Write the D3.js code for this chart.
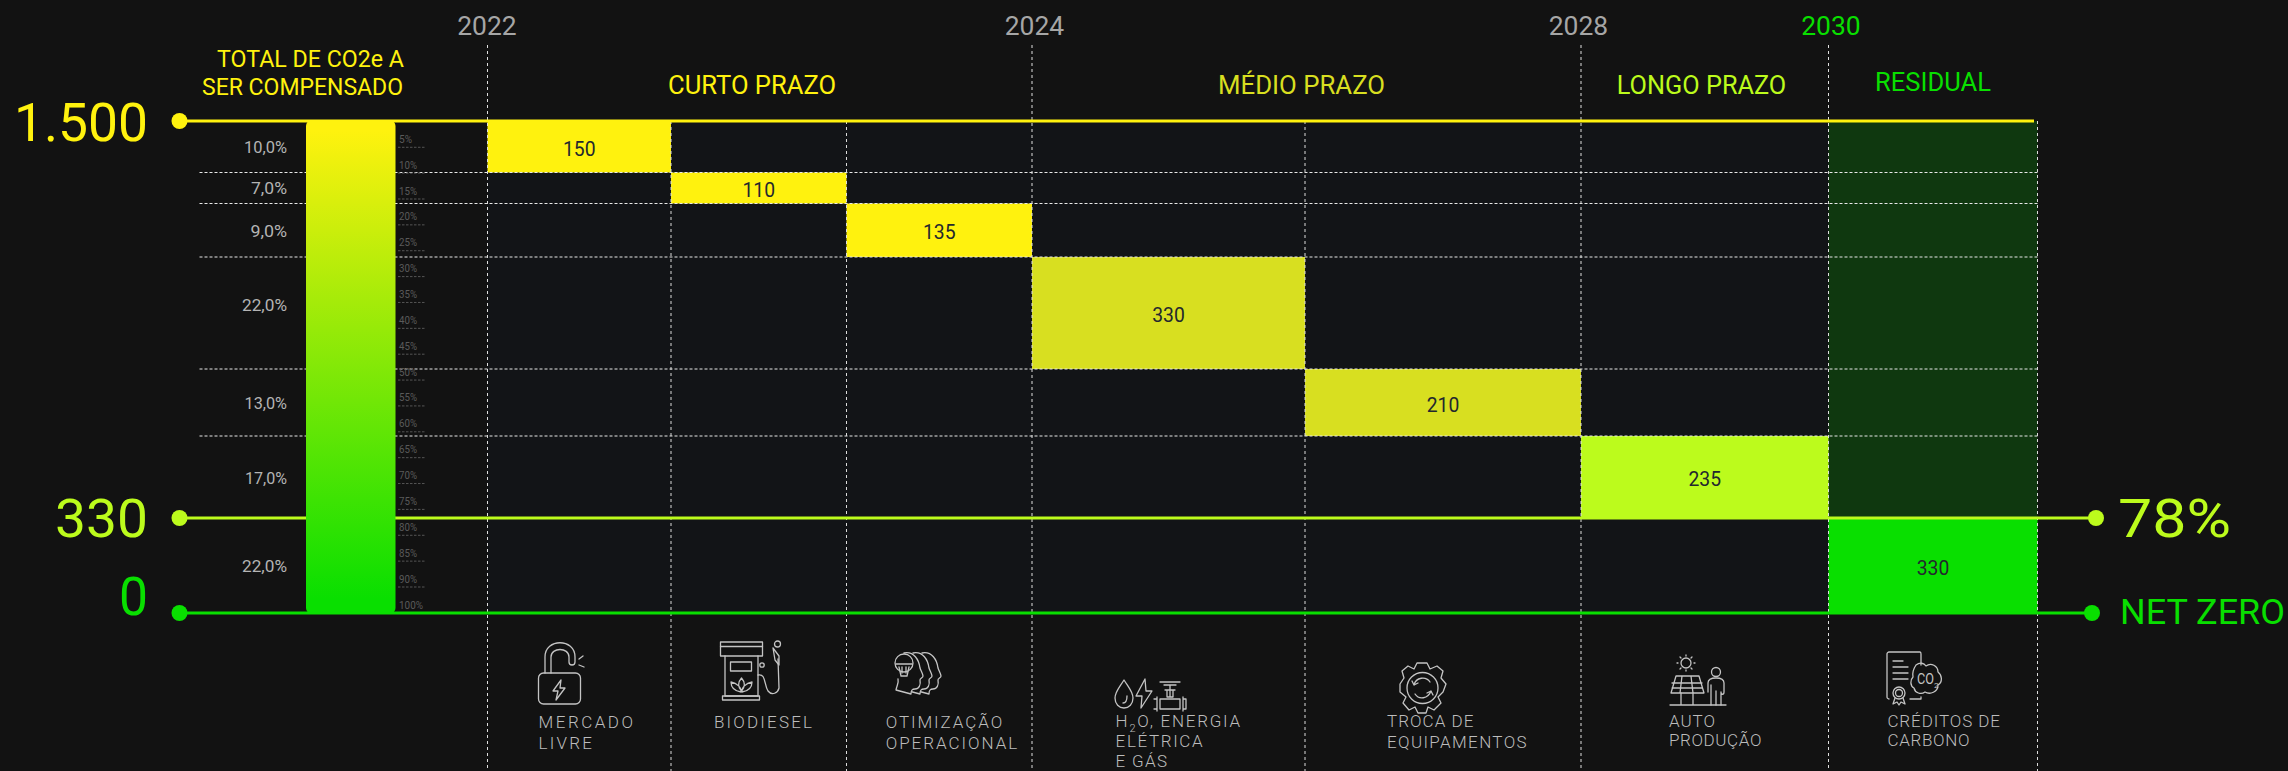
<!DOCTYPE html>
<html>
<head>
<meta charset="utf-8">
<script src="https://cdn.jsdelivr.net/npm/d3@7"></script>
<style>
  html,body{margin:0;padding:0;background:#121212;}
  svg{display:block;}
  text{font-family:"Roboto",sans-serif;font-weight:400;}
  .leg text{font-weight:300;}
  .axisY path,.axisX path,.axisP path{display:none;}
  .icon *{fill:none;stroke:#c4c4c4;stroke-width:1.3;stroke-linejoin:round;stroke-linecap:round;}
</style>
</head>
<body>
<svg id="chart" width="2288" height="771"></svg>
<script>
// data
var valores = [150,110,135,330,210,235,330];
var percentuais = ["10,0%","7,0%","9,0%","22,0%","13,0%","17,0%","22,0%"];
var anos = ["2022","2024","2028","2030"];
var anoColuna = [0,3,5,6];
var prazos = ["CURTO PRAZO","MÉDIO PRAZO","LONGO PRAZO","RESIDUAL"];
var tituloTotal = ["TOTAL DE CO2e A","SER COMPENSADO"];
var marcosEsq = ["1.500","330","0"];
var marcosVal = [1500,330,0];
var pctTicks = [5,10,15,20,25,30,35,40,45,50,55,60,65,70,75,80,85,90,100];
var legendas = [
  ["MERCADO","LIVRE"],
  ["BIODIESEL"],
  ["OTIMIZAÇÃO","OPERACIONAL"],
  ["H2O, ENERGIA","ELÉTRICA","E GÁS"],
  ["TROCA DE","EQUIPAMENTOS"],
  ["AUTO","PRODUÇÃO"],
  ["CRÉDITOS DE","CARBONO"]
];

// colors per cell
var amarelo = "#fff20e", oliva = "#d8df20", lima = "#bcfb1c", verde = "#09df00";
var corCel = [amarelo,amarelo,amarelo,oliva,oliva,lima,verde];
var corPrazo = [amarelo,oliva,lima,verde];

// layout
var restante = [1500];
valores.forEach(function(v,i){ restante.push(restante[i]-v); });

var y = d3.scaleLinear().domain(restante).range([121,172.5,203.5,257,369,436,518,613]);
var x = d3.scaleLinear().domain(d3.range(8)).range([487.5,671,846.5,1032,1305,1581,1828.5,2037.5]);
var yPct = d3.scaleLinear().domain([0,90,100]).range([121.4,587,613]);

var svg = d3.select("#chart");
var defs = svg.append("defs");
var grad = defs.append("linearGradient").attr("id","gBar").attr("x1",0).attr("x2",0).attr("y1",0).attr("y2",1);
grad.append("stop").attr("offset","2%").attr("stop-color",amarelo);
grad.append("stop").attr("offset","97%").attr("stop-color",verde);

function txt(g,s,px,py,size,cor,largura,anchor,ajuste){
  var t = g.append("text").attr("x",px).attr("y",py).attr("font-size",size).attr("fill",cor)
    .attr("text-anchor",anchor||"start").text(s);
  if(largura) t.attr("textLength",largura).attr("lengthAdjust",ajuste||"spacingAndGlyphs");
  return t;
}

svg.append("rect").attr("width",2288).attr("height",771).attr("fill","#121212");
svg.append("rect").attr("x",x(0)).attr("y",y(1500)).attr("width",x(6)-x(0)).attr("height",y(0)-y(1500)).attr("fill","#121417");

// residual band, dark part
svg.append("rect").attr("x",x(6)).attr("width",x(7)-x(6))
  .attr("y",y(1500)).attr("height",y(330)-y(1500)).attr("fill","#0f380f");

// cells
var cels = svg.append("g").selectAll("g").data(valores).enter().append("g");
cels.append("rect")
  .attr("x",function(d,i){ return x(i); })
  .attr("width",function(d,i){ return x(i+1)-x(i); })
  .attr("y",function(d,i){ return y(restante[i]); })
  .attr("height",function(d,i){ return y(restante[i+1])-y(restante[i]); })
  .attr("fill",function(d,i){ return corCel[i]; });

// grid, rows
var gRow = svg.append("g").attr("class","axisY").attr("transform","translate(2037.5,0)")
  .call(d3.axisLeft(y).tickValues(restante.slice(1,6)).tickSize(2037.5-198).tickFormat("").offset(0));
gRow.selectAll("line").attr("stroke","#e8e8e8").attr("stroke-width",1).attr("stroke-dasharray","3 2");

// grid, columns: the year columns go up to the labels, the others stop at the top line
var gCol = svg.append("g").attr("class","axisX").attr("transform","translate(0,45)")
  .call(d3.axisBottom(x).tickValues(anoColuna).tickSize(726).tickFormat("").offset(0));
gCol.selectAll("line").attr("stroke","#e0e0e0").attr("stroke-width",1).attr("stroke-dasharray","3 3");
var gCol2 = svg.append("g").attr("class","axisX").attr("transform","translate(0,121)")
  .call(d3.axisBottom(x).tickValues([1,2,4,7]).tickSize(650).tickFormat("").offset(0));
gCol2.selectAll("line").attr("stroke","#dcdcdc").attr("stroke-width",1).attr("stroke-dasharray","3 3");

// horizontal level lines
var corMarco = [amarelo,lima,verde];
var fimMarco = [2034,2096,2092];
svg.append("g").selectAll("line").data(marcosVal).enter().append("line")
  .attr("x1",179.5).attr("x2",function(d,i){ return fimMarco[i]; })
  .attr("y1",function(d){ return y(d); }).attr("y2",function(d){ return y(d); })
  .attr("stroke",function(d,i){ return corMarco[i]; }).attr("stroke-width",3);
svg.append("g").selectAll("circle").data(marcosVal).enter().append("circle")
  .attr("cx",179.5).attr("cy",function(d){ return y(d); }).attr("r",8)
  .attr("fill",function(d,i){ return corMarco[i]; });
svg.append("circle").attr("cx",2096).attr("cy",y(330)).attr("r",8).attr("fill",lima);
svg.append("circle").attr("cx",2092).attr("cy",y(0)).attr("r",8).attr("fill",verde);

// gradient column
svg.append("rect").attr("x",306).attr("y",120).attr("width",89.5).attr("height",494)
  .attr("rx",6).attr("fill","url(#gBar)");

// percent ticks next to column
var gPct = svg.append("g").attr("class","axisP").attr("transform","translate(398,0)")
  .call(d3.axisRight(yPct).tickValues(pctTicks).tickSize(27).tickFormat(function(d){ return d+"%"; }).offset(0));
gPct.selectAll("line").attr("stroke","#555").attr("stroke-dasharray","2.5 1.5")
  .attr("display",function(d){ return d==100 ? "none" : null; });
gPct.selectAll("text")
  .attr("x",1).attr("dy",null).attr("y",-4.5)
  .attr("text-anchor","start").attr("font-size",11).attr("fill","#5a5a5a")
  .attr("textLength",function(d){ return d<10 ? 13 : (d==100 ? 24 : 18); })
  .attr("lengthAdjust","spacingAndGlyphs");

// values in cells
cels.append("text")
  .attr("x",function(d,i){ return (x(i)+x(i+1))/2; })
  .attr("y",function(d,i){ return (y(restante[i])+y(restante[i+1]))/2+9; })
  .attr("text-anchor","middle").attr("font-size",20.5).attr("fill","#23272e")
  .attr("textLength",32.6).attr("lengthAdjust","spacingAndGlyphs")
  .text(function(d){ return d; });

// percent column on left
var pctBase = [153,194,237,310.7,409,484,572];
var pctLarg = [43,36,36.6,45,42.5,42,45];
var gPerc = svg.append("g");
percentuais.forEach(function(p,i){ txt(gPerc,p,287,pctBase[i],16,"#b4b4b4",pctLarg[i],"end"); });

// years
var gAno = svg.append("g");
var anoCentro = [487,1034.5,1578.5,1831];
anos.forEach(function(a,i){
  txt(gAno,a,anoCentro[i],35,26,i==3 ? verde : "#a6a6a6",59.5,"middle");
});

// period titles
var prazoX = [752,1301.5,1701.5,1933];
var prazoY = [94,94,94,91];
var prazoLarg = [168,167,169.5,116];
var gPrazo = svg.append("g");
prazos.forEach(function(p,i){ txt(gPrazo,p,prazoX[i],prazoY[i],26,corPrazo[i],prazoLarg[i],"middle"); });

txt(svg,tituloTotal[0],404,67,23,amarelo,187,"end");
txt(svg,tituloTotal[1],403,95,23,amarelo,201,"end");

// big numbers
var gBig = svg.append("g");
txt(gBig,marcosEsq[0],148,141,54,amarelo,134,"end");
txt(gBig,marcosEsq[1],148,537,54,lima,93,"end");
txt(gBig,marcosEsq[2],148,615,54,verde,29,"end");
txt(gBig,"78%",2118,537,54,lima,113);
txt(gBig,"NET ZERO",2120,624,35,verde,165);

// captions under the columns
var legX = [538.5,714,885.7,1115.6,1387,1669,1887.4];
var legBase = [[727.7,749],[728],[727.7,749],[726.7,747,767],[726.7,747.7],[726.7,746],[726.7,746]];
var legLarg = [[94.5,53.5],[98],[116.5,131.5],[124.5,87,51.5],[86.4,139.6],[46,92.4],[112.6,82.2]];
var gLeg = svg.append("g").attr("class","leg");
legendas.forEach(function(l,i){
  l.forEach(function(s,j){
    if(s.indexOf("H2O")==0){
      // subscript in the water label
      var t = txt(gLeg,"",legX[i],legBase[i][j],17,"#bcbcbc",legLarg[i][j],"start","spacing");
      t.append("tspan").text("H");
      t.append("tspan").attr("font-size",11).attr("dy",5).text("2");
      t.append("tspan").attr("dy",-5).text("O, ENERGIA");
    }else{
      txt(gLeg,s,legX[i],legBase[i][j],17,"#bcbcbc",legLarg[i][j],"start","spacing");
    }
  });
});

// icons, hand drawn line art
function icone(px,py){ return svg.append("g").attr("class","icon").attr("transform","translate("+px+","+py+")"); }

// open lock
var ic = icone(538,642);
ic.append("rect").attr("x",0.5).attr("y",31).attr("width",42).attr("height",31).attr("rx",5);
ic.append("path").attr("d","M7 31V15C7-4 37-4 37 15V20A3 3 0 0 1 31 20V15C31 5 13 5 13 15V31");
ic.append("path").attr("d","M23 38L15 49H20L18 58L27 46H22Z");
ic.append("path").attr("d","M41 17L45 14M41 23L46 25");

// fuel pump
ic = icone(720,641);
ic.append("rect").attr("x",0.5).attr("y",1).attr("width",42).attr("height",14);
ic.append("path").attr("d","M0.5 5.5H42.5M5 15V55H38V15");
ic.append("rect").attr("x",2.5).attr("y",55).attr("width",37).attr("height",4);
ic.append("rect").attr("x",10.5).attr("y",21).attr("width",21).attr("height",9);
ic.append("path").attr("d","M21.5 37C18 41 18 46 21.5 50C25 46 25 41 21.5 37ZM11 41C11 47 15 50 21 51C22 47 17 42 11 41ZM32 41C32 47 28 50 22 51C21 47 26 42 32 41Z");
ic.append("path").attr("d","M38 34C46 32 44 44 48 50C52 55 58 52 59 47L58 18");
ic.append("path").attr("d","M53 7L59 15V24L55 19Z");
ic.append("circle").attr("cx",57.5).attr("cy",3).attr("r",3);
ic.append("circle").attr("cx",42).attr("cy",24).attr("r",2.2);

// heads with a bulb
ic = icone(894,652);
var cabeca = "M10 1C20-1 25 8 26 16C27 19 29 22 29 24C29 26 26 26 26 28C27 33 25 37 21 37C18 37 17 38 17 42L2 38C3 33 5 31 4 27";
[18,9,0].forEach(function(dx){
  ic.append("path").attr("d",cabeca).attr("transform","translate("+dx+",0)").style("fill","#121212");
});
ic.append("circle").attr("cx",10).attr("cy",11).attr("r",9).style("fill","#121212");
ic.append("path").attr("d","M2 12H18M5 15L7 24H13L15 15M8 15V21M12 15V21");

// water, power, valve
ic = icone(1114,678);
ic.append("path").attr("d","M10 2C5 10 1 14 1 20C1 26 5 30 10 30C15 30 19 26 19 20C19 14 15 10 10 2Z");
ic.append("path").attr("d","M13 18C13 23 11 25 9 25");
ic.append("path").attr("d","M31 1L22 18H28L27 30L38 13H32Z");
ic.append("path").attr("d","M46 4H66M50 7H62M56 7V19M51 12H61M53 12V19H59V12");
ic.append("path").attr("d","M46 21H66V31H46ZM43 19V33M69 19V33M40 21H43V31H40M69 21H72V31H69");

// gear
ic = icone(1399,661);
ic.append("path").attr("d","M18 2H28L31 8L38 5L44 10L42 17L47 23L44 31L39 36L42 42L35 49L29 46L27 52H19L16 46L10 49L4 42L7 36L1 31V23L5 17L3 10L9 5L15 8Z");
ic.append("circle").attr("cx",23.5).attr("cy",27).attr("r",15.5);
ic.append("path").attr("d","M31 21C27 15 17 16 15 24M16 33C20 39 29 38 32 30M13 20L15 24L19 22M34 34L32 30L28 32");

// solar panel and person
ic = icone(1674,655);
ic.append("circle").attr("cx",12).attr("cy",8).attr("r",5);
ic.append("path").attr("d","M12 0V1M12 15V16M3 8H4M20 8H21M6 2L7 3M18 2L17 3M6 14L7 13M18 14L17 13");
ic.append("path").attr("d","M2 21H25L30 38H-3ZM-2 28H28M-2 33H28M8 21L6 38M17 21L19 38");
ic.append("path").attr("d","M7 38V50M19 38V50M-4 50H52");
ic.append("circle").attr("cx",42).attr("cy",17).attr("r",4.5);
ic.append("path").attr("d","M34 37V28C34 24 38 23 42 23C46 23 50 24 50 28V37C50 40 47 40 47 37V50M37 37V50M42 36V50M37 30V38");

// document with certificate and cloud
ic = icone(1886,651);
ic.append("path").attr("d","M3 48C2 48 1 47 1 46V3C1 2 2 1 3 1H34C35 1 35 2 35 3V14M35 46V48H24");
ic.append("path").attr("d","M7 10H17M7 16H22M7 22H22M7 28H22");
ic.append("circle").attr("cx",13).attr("cy",42).attr("r",6);
ic.append("circle").attr("cx",13).attr("cy",42).attr("r",3.5);
ic.append("path").attr("d","M9 47L7 53L11 51L13 54L15 51L19 53L17 47");
ic.append("path").attr("d","M30 14C34 11 38 12 40 15C45 11 52 15 52 21C56 24 57 31 52 34C52 41 44 44 39 41C35 44 29 42 28 37C24 35 24 29 27 26C26 21 28 17 30 14Z");
txt(ic,"CO",31,33,14,"#c4c4c4",17).style("stroke","none").style("fill","#c4c4c4");
txt(ic,"2",48,37,8,"#c4c4c4").style("stroke","none").style("fill","#c4c4c4");
</script>
</body>
</html>
